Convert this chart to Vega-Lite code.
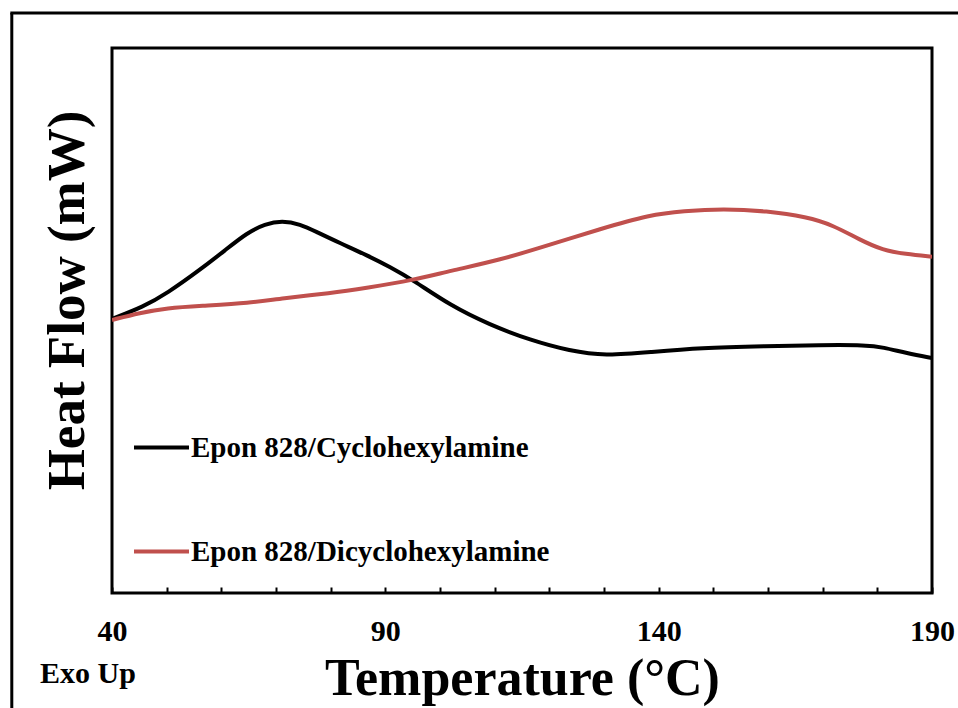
{
  "$schema": "https://vega.github.io/schema/vega-lite/v6.json",
  "width": 820,
  "height": 545,
  "autosize": {"type": "none"},
  "padding": {"left": 112, "top": 48, "right": 26, "bottom": 115},
  "background": "white",
  "config": {
    "view": {"stroke": "black", "strokeWidth": 3},
    "font": "Liberation Serif"
  },
  "resolve": {"axis": {"x": "independent", "y": "independent"}},
  "datasets": {
    "curves": [
      {"series": "Epon 828/Cyclohexylamine", "T": 40.0, "v": 5.03},
      {"series": "Epon 828/Cyclohexylamine", "T": 45.7, "v": 5.25},
      {"series": "Epon 828/Cyclohexylamine", "T": 50.1, "v": 5.50},
      {"series": "Epon 828/Cyclohexylamine", "T": 56.1, "v": 5.93},
      {"series": "Epon 828/Cyclohexylamine", "T": 60.7, "v": 6.29},
      {"series": "Epon 828/Cyclohexylamine", "T": 64.7, "v": 6.61},
      {"series": "Epon 828/Cyclohexylamine", "T": 68.0, "v": 6.77},
      {"series": "Epon 828/Cyclohexylamine", "T": 71.1, "v": 6.83},
      {"series": "Epon 828/Cyclohexylamine", "T": 74.4, "v": 6.77},
      {"series": "Epon 828/Cyclohexylamine", "T": 77.5, "v": 6.62},
      {"series": "Epon 828/Cyclohexylamine", "T": 81.7, "v": 6.42},
      {"series": "Epon 828/Cyclohexylamine", "T": 86.6, "v": 6.20},
      {"series": "Epon 828/Cyclohexylamine", "T": 90.9, "v": 5.98},
      {"series": "Epon 828/Cyclohexylamine", "T": 95.1, "v": 5.74},
      {"series": "Epon 828/Cyclohexylamine", "T": 101.8, "v": 5.28},
      {"series": "Epon 828/Cyclohexylamine", "T": 109.1, "v": 4.92},
      {"series": "Epon 828/Cyclohexylamine", "T": 116.5, "v": 4.64},
      {"series": "Epon 828/Cyclohexylamine", "T": 123.8, "v": 4.44},
      {"series": "Epon 828/Cyclohexylamine", "T": 130.2, "v": 4.35},
      {"series": "Epon 828/Cyclohexylamine", "T": 138.4, "v": 4.42},
      {"series": "Epon 828/Cyclohexylamine", "T": 147.6, "v": 4.50},
      {"series": "Epon 828/Cyclohexylamine", "T": 159.8, "v": 4.53},
      {"series": "Epon 828/Cyclohexylamine", "T": 169.5, "v": 4.55},
      {"series": "Epon 828/Cyclohexylamine", "T": 178.1, "v": 4.55},
      {"series": "Epon 828/Cyclohexylamine", "T": 181.0, "v": 4.51},
      {"series": "Epon 828/Cyclohexylamine", "T": 185.4, "v": 4.40},
      {"series": "Epon 828/Cyclohexylamine", "T": 190.0, "v": 4.31},
      {"series": "Epon 828/Dicyclohexylamine", "T": 40.0, "v": 5.01},
      {"series": "Epon 828/Dicyclohexylamine", "T": 45.1, "v": 5.14},
      {"series": "Epon 828/Dicyclohexylamine", "T": 50.1, "v": 5.23},
      {"series": "Epon 828/Dicyclohexylamine", "T": 56.1, "v": 5.27},
      {"series": "Epon 828/Dicyclohexylamine", "T": 65.2, "v": 5.32},
      {"series": "Epon 828/Dicyclohexylamine", "T": 71.1, "v": 5.41},
      {"series": "Epon 828/Dicyclohexylamine", "T": 79.9, "v": 5.50},
      {"series": "Epon 828/Dicyclohexylamine", "T": 86.6, "v": 5.60},
      {"series": "Epon 828/Dicyclohexylamine", "T": 95.1, "v": 5.74},
      {"series": "Epon 828/Dicyclohexylamine", "T": 101.8, "v": 5.91},
      {"series": "Epon 828/Dicyclohexylamine", "T": 111.0, "v": 6.11},
      {"series": "Epon 828/Dicyclohexylamine", "T": 120.1, "v": 6.39},
      {"series": "Epon 828/Dicyclohexylamine", "T": 129.3, "v": 6.68},
      {"series": "Epon 828/Dicyclohexylamine", "T": 138.4, "v": 6.94},
      {"series": "Epon 828/Dicyclohexylamine", "T": 144.5, "v": 7.01},
      {"series": "Epon 828/Dicyclohexylamine", "T": 151.8, "v": 7.05},
      {"series": "Epon 828/Dicyclohexylamine", "T": 159.8, "v": 7.01},
      {"series": "Epon 828/Dicyclohexylamine", "T": 167.1, "v": 6.90},
      {"series": "Epon 828/Dicyclohexylamine", "T": 171.9, "v": 6.75},
      {"series": "Epon 828/Dicyclohexylamine", "T": 176.8, "v": 6.48},
      {"series": "Epon 828/Dicyclohexylamine", "T": 181.0, "v": 6.29},
      {"series": "Epon 828/Dicyclohexylamine", "T": 185.1, "v": 6.22},
      {"series": "Epon 828/Dicyclohexylamine", "T": 190.0, "v": 6.17}
    ],
    "note": [{"label": "Exo Up"}]
  },
  "layer": [
    {
      "data": {"name": "curves"},
      "mark": {"type": "line", "strokeWidth": 4, "interpolate": "basis", "clip": true},
      "encoding": {
        "x": {
          "field": "T", "type": "quantitative",
          "scale": {"domain": [40, 190], "nice": false, "zero": false},
          "axis": {
            "title": "Temperature (°C)",
            "titleFont": "Liberation Serif", "titleFontSize": 52, "titleFontWeight": "bold", "titleColor": "black",
            "titleBaseline": "alphabetic", "titleY": 101,
            "values": [40, 50, 60, 70, 80, 90, 100, 110, 120, 130, 140, 150, 160, 170, 180, 190],
            "labelExpr": "datum.value % 50 == 40 ? datum.label : ''",
            "labelFont": "Liberation Serif", "labelFontSize": 30, "labelFontWeight": "bold", "labelColor": "black",
            "labelBaseline": "alphabetic", "labelPadding": 53, "labelFlush": false, "labelOverlap": false,
            "tickSize": -6, "tickWidth": 2, "tickColor": "black",
            "domain": false, "grid": false
          }
        },
        "y": {
          "field": "v", "type": "quantitative",
          "scale": {"domain": [0, 10], "nice": false, "zero": false},
          "axis": {
            "title": "Heat Flow (mW)",
            "titleFont": "Liberation Serif", "titleFontSize": 53, "titleFontWeight": "bold", "titleColor": "black",
            "titleAngle": -90, "titleBaseline": "alphabetic", "titleX": -29, "titleY": 252, "titleAlign": "center",
            "labels": false, "ticks": false, "domain": false, "grid": false
          }
        },
        "color": {
          "field": "series", "type": "nominal",
          "scale": {"domain": ["Epon 828/Cyclohexylamine", "Epon 828/Dicyclohexylamine"], "range": ["#000000", "#C0504D"]},
          "legend": {
            "title": null, "orient": "none", "legendX": 20, "legendY": 370, "padding": 0,
            "symbolType": "stroke", "symbolSize": 3025, "symbolStrokeWidth": 4,
            "labelFont": "Liberation Serif", "labelFontSize": 29, "labelFontWeight": "bold", "labelColor": "black",
            "labelOffset": 0, "rowPadding": 59, "labelLimit": 600
          }
        }
      }
    },
    {
      "data": {"name": "note"},
      "mark": {"type": "rule", "strokeWidth": 3, "color": "black"},
      "encoding": {
        "x": {"datum": 21.67, "type": "quantitative", "scale": {"domain": [40, 190], "nice": false, "zero": false}, "axis": null},
        "y": {"datum": 10.64, "type": "quantitative", "scale": {"domain": [0, 10], "nice": false, "zero": false}, "axis": null},
        "y2": {"datum": -2.3}
      }
    },
    {
      "data": {"name": "note"},
      "mark": {"type": "rule", "strokeWidth": 3, "color": "black"},
      "encoding": {
        "x": {"datum": 21.4, "type": "quantitative", "scale": {"domain": [40, 190], "nice": false, "zero": false}, "axis": null},
        "x2": {"datum": 196},
        "y": {"datum": 10.64, "type": "quantitative", "scale": {"domain": [0, 10], "nice": false, "zero": false}, "axis": null}
      }
    },
    {
      "data": {"name": "note"},
      "mark": {"type": "text", "font": "Liberation Serif", "fontSize": 30, "fontWeight": "bold", "color": "black", "align": "left", "baseline": "alphabetic"},
      "encoding": {
        "x": {"datum": 26.83, "type": "quantitative", "scale": {"domain": [40, 190], "nice": false, "zero": false}, "axis": null},
        "y": {"datum": -1.651, "type": "quantitative", "scale": {"domain": [0, 10], "nice": false, "zero": false}, "axis": null},
        "text": {"field": "label"}
      }
    }
  ]
}
